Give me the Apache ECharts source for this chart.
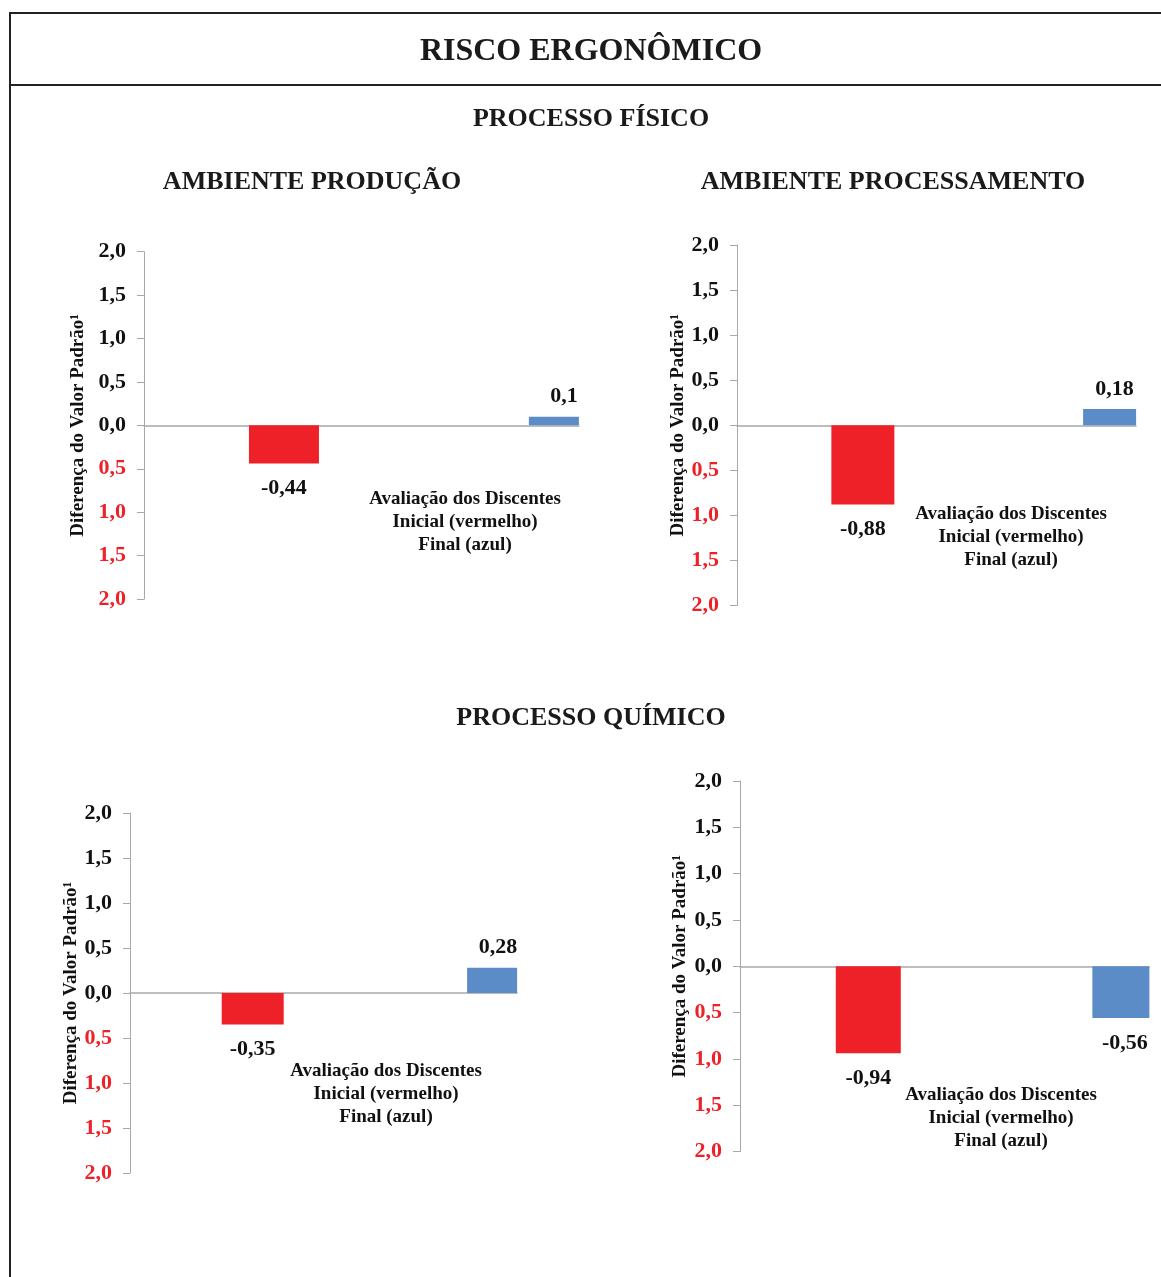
<!DOCTYPE html>
<html>
<head>
<meta charset="utf-8">
<script src="https://cdn.jsdelivr.net/npm/echarts@6/dist/echarts.min.js"></script>
<style>
html,body{margin:0;padding:0;background:#fff;}
#chart{width:1161px;height:1277px;}
</style>
</head>
<body>
<div id="chart"></div>
<script>
// ---- data ----
var categories = ['Inicial', 'Final'];
var barColors = ['#ed2127', '#5b8cc8'];
var producaoFisico = [-0.44, 0.1];
var processamentoFisico = [-0.88, 0.18];
var producaoQuimico = [-0.35, 0.28];
var processamentoQuimico = [-0.94, -0.56];
var yTicks = [-2, -1.5, -1, -0.5, 0, 0.5, 1, 1.5, 2];
var yAxisName = 'Diferença do Valor Padrão¹';
var noteText = 'Avaliação dos Discentes\nInicial (vermelho)\nFinal (azul)';

var FONT = '"Liberation Serif", "Times New Roman", serif';

// layout of each panel (styles / positions only); blue bars are cropped at the right edge as in the source
var panels = [
  {values: producaoFisico,       left:144, top:251.7, width:435, height:347.3, xmax:1.054, redW:70, blueW:50, nameGap:56, blueOff:10, note:[465, 488]},
  {values: processamentoFisico,  left:737, top:245,   width:399, height:360.5, xmax:1.085, redW:63, blueW:53, nameGap:49, blueOff:5,  note:[1011, 503]},
  {values: producaoQuimico,      left:130, top:813,   width:387, height:360,   xmax:1.077, redW:62, blueW:50, nameGap:47, blueOff:6,  note:[386, 1060]},
  {values: processamentoQuimico, left:740, top:781,   width:409, height:370.5, xmax:1.094, redW:65, blueW:57, nameGap:50, blueOff:4,  note:[1001, 1084]}
];

function fmt(v){ return String(v).replace('.', ','); }

var labelBase = {show:true, fontFamily:FONT, fontWeight:'bold', fontSize:22, color:'#111',
  formatter:function(prm){ return fmt(prm.value[1]); }};

function itemLabel(v, off){
  return {position: v < 0 ? 'bottom' : 'top', distance: v < 0 ? 14 : 9, offset:[off, 0]};
}

var grids = [], xAxes = [], yAxes = [], series = [], graphics = [];

panels.forEach(function(p, gi){
  grids.push({left:p.left, top:p.top, width:p.width, height:p.height, containLabel:false});
  xAxes.push({
    type:'value', gridIndex:gi, min:-0.5, max:p.xmax,
    axisLine:{show:true, onZero:true, lineStyle:{color:'#a8a8a8', width:1.5}},
    axisTick:{show:false}, axisLabel:{show:false}, splitLine:{show:false}
  });
  yAxes.push({
    type:'value', gridIndex:gi, min:-2, max:2, interval:0.5,
    axisLine:{show:true, onZero:false, lineStyle:{color:'#a8a8a8', width:1}},
    axisTick:{show:true, length:7, lineStyle:{color:'#a8a8a8'}},
    splitLine:{show:false},
    axisLabel:{
      margin:18, fontFamily:FONT, fontWeight:'bold', fontSize:22,
      formatter:function(v){ return Math.abs(v).toFixed(1).replace('.', ','); },
      color:function(v){ return Number(v) < 0 ? '#ed2127' : '#111'; }
    },
    name:yAxisName, nameLocation:'middle', nameRotate:90, nameGap:p.nameGap,
    nameTextStyle:{fontFamily:FONT, fontWeight:'bold', fontSize:19, color:'#111'}
  });
  // 'Final' (blue) series first, then 'Inicial' (red); barGap -100% keeps each at its category position
  var vb = p.values[1], vr = p.values[0];
  series.push({
    type:'bar', name:categories[1], xAxisIndex:gi, yAxisIndex:gi, barWidth:p.blueW, barGap:'-100%',
    itemStyle:{color:barColors[1]},
    data:[{value:[1, vb], label:itemLabel(vb, p.blueOff)}],
    label:labelBase
  });
  series.push({
    type:'bar', name:categories[0], xAxisIndex:gi, yAxisIndex:gi, barWidth:p.redW, barGap:'-100%',
    itemStyle:{color:barColors[0]},
    data:[{value:[0, vr], label:itemLabel(vr, 0)}],
    label:labelBase
  });
  graphics.push({
    type:'text', x:p.note[0], y:p.note[1],
    style:{text:noteText, font:'bold 19px ' + FONT, fill:'#111',
      align:'center', textAlign:'center', verticalAlign:'top', textVerticalAlign:'top', lineHeight:23}
  });
});

// titles
function titleText(txt, x, y, size){
  return {type:'text', x:x, y:y, style:{text:txt, font:'bold ' + size + 'px ' + FONT, fill:'#1a1a1a',
    align:'center', textAlign:'center', verticalAlign:'middle', textVerticalAlign:'middle'}};
}
graphics.push(titleText('RISCO ERGONÔMICO', 591, 52, 32));
graphics.push(titleText('PROCESSO FÍSICO', 591, 119, 26));
graphics.push(titleText('AMBIENTE PRODUÇÃO', 312, 182, 26));
graphics.push(titleText('AMBIENTE PROCESSAMENTO', 893, 182, 26));
graphics.push(titleText('PROCESSO QUÍMICO', 591, 718, 26));

// frame
graphics.push({type:'line', shape:{x1:9, y1:13, x2:1161, y2:13}, style:{stroke:'#222', lineWidth:2}});
graphics.push({type:'line', shape:{x1:9, y1:85, x2:1161, y2:85}, style:{stroke:'#222', lineWidth:2}});
graphics.push({type:'line', shape:{x1:10, y1:12, x2:10, y2:1277}, style:{stroke:'#222', lineWidth:2}});

var chart = echarts.init(document.getElementById('chart'), null, {renderer:'canvas'});
chart.setOption({
  backgroundColor:'#fff',
  animation:false,
  grid:grids, xAxis:xAxes, yAxis:yAxes, series:series,
  graphic:{elements:graphics}
});
</script>
</body>
</html>
